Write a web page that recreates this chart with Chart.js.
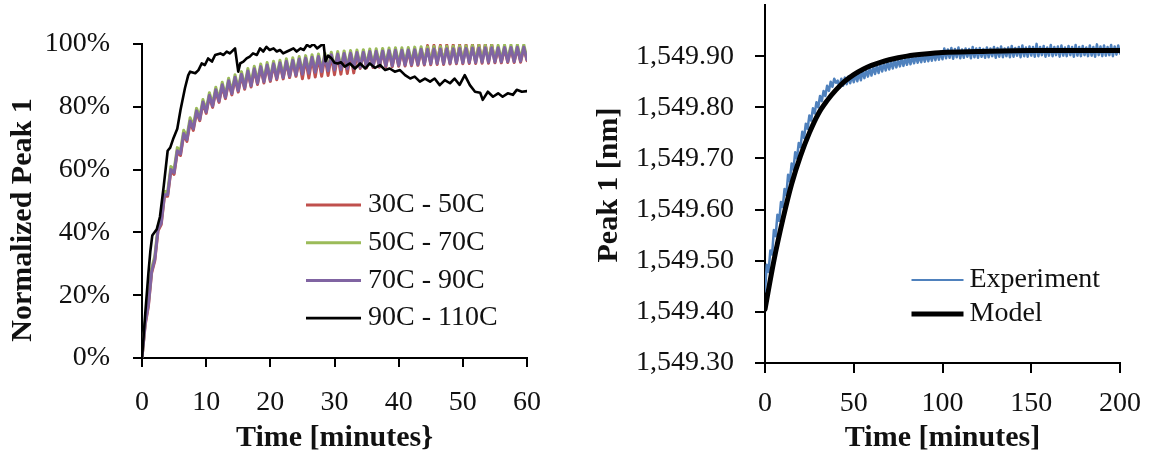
<!DOCTYPE html>
<html>
<head>
<meta charset="utf-8">
<script src="https://cdn.jsdelivr.net/npm/chart.js@4.4.1/dist/chart.umd.min.js"></script>
<style>
  body { margin: 0; background: #fff; }
  #wrap { position: relative; width: 1149px; height: 456px; }
  canvas { position: absolute; top: 0; }
  #left { left: 0; }
  #right { left: 575px; }
</style>
</head>
<body>
<div id="wrap">
  <canvas id="left" width="575" height="456"></canvas>
  <canvas id="right" width="574" height="456"></canvas>
</div>
<script>
// left chart: normalized peak shift, 0..60 min
const tColored = [0,0.5,1,1.5,2,2.5,3,3.5,4,4.5,5,5.5,6,6.5,7,7.5,8,8.5,9,9.5,
  10,10.5,11,11.5,12,12.5,13,13.5,14,14.5,15,15.5,16,16.5,17,17.5,18,18.5,19,19.5,
  20,20.5,21,21.5,22,22.5,23,23.5,24,24.5,25,25.5,26,26.5,27,27.5,28,28.5,29,29.5,
  30,30.5,31,31.5,32,32.5,33,33.5,34,34.5,35,35.5,36,36.5,37,37.5,38,38.5,39,39.5,
  40,40.5,41,41.5,42,42.5,43,43.5,44,44.5,45,45.5,46,46.5,47,47.5,48,48.5,49,49.5,
  50,50.5,51,51.5,52,52.5,53,53.5,54,54.5,55,55.5,56,56.5,57,57.5,58,58.5,59,59.5,60];

const run30_50 = [0,10.5,16.5,27,31,40.5,42.5,51.5,51.5,59.5,
  58.5,65.5,64.5,71,69,75,72.5,78.3,75.6,81.1,
  77.9,83.3,79.8,85,81.4,86.6,82.6,87.9,83.8,89,
  84.7,90,85.6,91,86.3,91.7,87.1,92.4,87.6,92.9,
  88.1,93.3,88.6,93.6,88.9,94.1,89.3,94.4,89.7,94.8,
  88.9,95.2,89.2,95.5,89.5,95.7,89.7,96,90,96.3,
  90.2,96.5,90.4,96.7,90.6,96.8,90.8,97,92.2,97.1,
  92.4,97.3,92.5,97.4,92.6,97.5,92.7,97.6,92.8,97.7,
  92.9,97.7,93,97.8,93.1,97.9,93.2,98,93.3,99.5,
  93.4,99.6,93.5,99.6,93.5,99.7,93.6,99.7,93.7,99.8,
  93.7,99.8,93.8,99.9,93.8,99.9,93.9,100,93.9,100,
  94,98.5,94,98.6,94.1,98.6,94.1,98.7,94.2,98.7,
  94.7];

const run50_70 = [0,11.5,18,28.5,32.5,42,44,53,53,61,
  60,67,66,72.5,70.5,76.5,74,79.5,76.8,82.3,
  79,84.5,80.8,86.2,82.4,87.8,83.6,89.1,84.8,90.2,
  85.7,91.2,86.6,92.2,87.3,92.9,88.1,93.6,88.6,94.1,
  89.1,94.5,89.6,94.8,89.9,95.3,90.3,95.6,90.7,96,
  91,96.3,91.3,96.6,91.6,96.8,91.8,97.1,92.1,97.4,
  92.3,97.6,92.5,97.8,92.7,97.9,92.9,98.1,93.1,98.2,
  93.3,98.4,93.4,98.5,93.5,98.6,93.6,98.7,93.7,98.8,
  93.8,98.8,93.9,98.9,94,99,94.1,99.1,94.2,99.1,
  94.3,99.2,94.4,99.2,94.4,99.3,94.5,99.3,94.6,99.4,
  94.6,99.4,94.7,99.5,94.7,99.5,94.8,99.6,94.8,99.6,
  94.9,99.6,94.9,99.7,95,99.7,95,99.8,95.1,99.8,
  95.5];

const run70_90 = [0,11,17,27.5,31.5,41,43,52,52,60,
  59,66,65,71.5,69.5,75.5,73,78.7,76,81.5,
  78.3,83.7,80.2,85.4,81.8,87,83,88.3,84.2,89.4,
  85.1,90.4,86,91.4,86.7,92.1,87.5,92.8,88,93.3,
  88.5,93.7,89,94,89.3,94.5,89.7,94.8,90.1,95.2,
  90.4,95.5,90.7,95.8,91,96,91.2,96.3,91.5,96.6,
  91.7,96.8,91.9,97,92.1,97.1,92.3,97.3,92.5,97.4,
  92.7,97.6,92.8,97.7,92.9,97.8,93,97.9,93.1,98,
  93.2,98,93.3,98.1,93.4,98.2,93.5,98.3,93.6,98.3,
  93.7,98.4,93.8,98.4,93.8,98.5,93.9,98.5,94,98.6,
  94,98.6,94.1,98.7,94.1,98.7,94.2,98.8,94.2,98.8,
  94.3,98.8,94.3,98.9,94.4,98.9,94.4,99,94.5,99,
  95];

const tHot = [0,0.5,1,1.3,1.6,2.3,2.8,3.4,4,4.4,4.9,5.5,6,6.7,7.2,7.5,8.3,8.8,9.3,9.8,
  10.3,10.9,11.4,12.2,12.7,13.2,13.7,14.5,15,15.3,15.8,16.3,16.8,17.3,17.9,18.4,18.9,19.4,19.9,20.5,
  21,21.5,22,22.6,23.1,23.6,24.1,24.7,25.2,25.7,26.2,26.7,27.3,28,28.3,28.6,29,29.5,30,30.5,
  31,31.6,32.4,33.2,34,34.8,35.5,36.3,37.1,37.9,38.6,39.4,40.2,41,41.8,42.5,43.3,44.1,44.9,45.6,
  46.4,47.2,48,48.7,49.5,50.3,51.1,51.9,52.7,53.1,53.9,54.7,55.5,56.2,57,57.8,58.4,59.2,60];
const run90_110 = [0,14,27,34,39,41,45,55,66,67,70,73,79,86,90,91.2,90.7,91.7,93.8,93.3,
  95.4,94.4,96.5,97,96.5,97.6,97,98.6,91.2,93.8,94.4,95.4,96,97,96.5,98.6,97.6,99.1,98.1,98.6,
  97.6,98.1,97,97.6,98.1,98.6,97.6,98.6,98.1,99.7,99.1,100,98.6,99.7,100,94.5,96.3,95.5,94,93.8,
  94.2,92.8,93.8,92.2,93.8,92.2,93.8,92.4,93.3,91.7,92.2,91.2,91.7,90.1,89,89.6,88,89,88,89,
  86.9,88.5,87.5,89,87,90.1,86.9,84.8,84.5,82.2,84.8,83.2,84.3,83.2,84.3,83.8,85.4,84.8,85];

const leftTicksX = [0,10,20,30,40,50,60];
const leftTicksY = [0,20,40,60,80,100];

// right chart: peak wavelength, one reading per minute, 0..200 min
const tExp = [0,1,2,3,4,5,6,7,8,9,10,11,12,13,14,15,16,17,18,19,
  20,21,22,23,24,25,26,27,28,29,30,31,32,33,34,35,36,37,38,39,
  40,41,42,43,44,45,46,47,48,49,50,51,52,53,54,55,56,57,58,59,
  60,61,62,63,64,65,66,67,68,69,70,71,72,73,74,75,76,77,78,79,
  80,81,82,83,84,85,86,87,88,89,90,91,92,93,94,95,96,97,98,99,
  100,101,102,103,104,105,106,107,108,109,110,111,112,113,114,115,116,117,118,119,
  120,121,122,123,124,125,126,127,128,129,130,131,132,133,134,135,136,137,138,139,
  140,141,142,143,144,145,146,147,148,149,150,151,152,153,154,155,156,157,158,159,
  160,161,162,163,164,165,166,167,168,169,170,171,172,173,174,175,176,177,178,179,
  180,181,182,183,184,185,186,187,188,189,190,191,192,193,194,195,196,197,198,199,200];
const experiment = [
  1549.440,1549.492,1549.478,1549.520,1549.512,1549.560,1549.548,1549.590,1549.578,1549.615,
  1549.605,1549.640,1549.628,1549.668,1549.655,1549.690,1549.678,1549.712,1549.700,1549.730,
  1549.722,1549.752,1549.740,1549.768,1549.758,1549.784,1549.774,1549.798,1549.788,1549.810,
  1549.800,1549.822,1549.812,1549.832,1549.822,1549.842,1549.832,1549.850,1549.840,1549.856,
  1549.848,1549.852,1549.838,1549.856,1549.842,1549.858,1549.845,1549.860,1549.847,1549.862,
  1549.849,1549.865,1549.851,1549.868,1549.853,1549.871,1549.857,1549.873,1549.860,1549.876,
  1549.862,1549.879,1549.865,1549.881,1549.867,1549.884,1549.870,1549.886,1549.872,1549.888,
  1549.874,1549.890,1549.876,1549.892,1549.878,1549.893,1549.880,1549.895,1549.881,1549.896,
  1549.883,1549.898,1549.884,1549.899,1549.886,1549.900,1549.887,1549.901,1549.888,1549.902,
  1549.889,1549.904,1549.890,1549.904,1549.891,1549.906,1549.892,1549.907,1549.893,1549.909,
  1549.894,1549.915,1549.896,1549.913,1549.897,1549.916,1549.895,1549.914,1549.898,1549.917,
  1549.896,1549.913,1549.897,1549.915,1549.899,1549.914,1549.896,1549.918,1549.898,1549.915,
  1549.897,1549.916,1549.899,1549.914,1549.897,1549.917,1549.898,1549.915,1549.900,1549.918,
  1549.897,1549.916,1549.899,1549.919,1549.898,1549.915,1549.900,1549.917,1549.898,1549.920,
  1549.899,1549.916,1549.901,1549.918,1549.898,1549.921,1549.900,1549.917,1549.899,1549.919,
  1549.901,1549.918,1549.899,1549.924,1549.900,1549.918,1549.902,1549.920,1549.899,1549.917,
  1549.901,1549.922,1549.900,1549.918,1549.902,1549.919,1549.899,1549.921,1549.901,1549.917,
  1549.900,1549.920,1549.902,1549.918,1549.899,1549.922,1549.901,1549.918,1549.900,1549.920,
  1549.902,1549.917,1549.900,1549.921,1549.901,1549.918,1549.899,1549.923,1549.902,1549.919,
  1549.900,1549.921,1549.901,1549.918,1549.902,1549.922,1549.900,1549.919,1549.903,1549.921,
  1549.905];

const tModel = [0,5,10,15,20,25,30,35,40,45,50,55,60,65,70,75,80,90,100,120,150,200];
const model = [1549.405,1549.500,1549.580,1549.650,1549.705,1549.750,1549.787,1549.813,1549.834,1549.851,
  1549.864,1549.874,1549.882,1549.888,1549.893,1549.897,1549.900,1549.904,1549.907,1549.909,1549.911,1549.911];

const rightTicksX = [0,50,100,150,200];
const rightTicksY = [1549.3,1549.4,1549.5,1549.6,1549.7,1549.8,1549.9];

Chart.defaults.font.family = "'Liberation Serif', 'Times New Roman', serif";
Chart.defaults.color = '#111';

const pairs = (xs, ys) => xs.map((x, i) => ({x: x, y: ys[i]}));

// legend drawn inside the plot, like the original figure
const sideLegend = {
  id: 'sideLegend',
  afterDraw(chart, args, o) {
    const ctx = chart.ctx;
    ctx.save();
    ctx.font = o.font;
    ctx.textBaseline = 'middle';
    ctx.textAlign = 'left';
    ctx.fillStyle = '#111';
    chart.data.datasets.forEach((ds, i) => {
      const y = o.y + i * o.dy;
      ctx.strokeStyle = ds.borderColor;
      ctx.lineWidth = ds.legendWidth || ds.borderWidth;
      ctx.beginPath();
      ctx.moveTo(o.x, y);
      ctx.lineTo(o.x + o.len, y);
      ctx.stroke();
      ctx.fillText(ds.label, o.x + o.len + o.gap, y);
    });
    ctx.restore();
  }
};

const yTitle = {
  id: 'yTitle',
  afterDraw(chart, args, o) {
    const ctx = chart.ctx;
    ctx.save();
    ctx.translate(o.x, o.y);
    ctx.rotate(-Math.PI / 2);
    ctx.font = "bold 30px 'Liberation Serif'";
    ctx.textAlign = 'center';
    ctx.textBaseline = 'middle';
    ctx.fillStyle = '#111';
    ctx.fillText(o.text, 0, 0);
    ctx.restore();
  }
};

function axis(min, max, ticks, pad, tickLen, size, fmt, extra) {
  return Object.assign({
    type: 'linear',
    min: min,
    max: max,
    afterBuildTicks: s => { s.ticks = ticks.map(v => ({value: v})); },
    ticks: {padding: pad, maxRotation: 0, autoSkip: false, font: {size: 28}, color: '#111', callback: fmt},
    grid: {drawOnChartArea: false, drawTicks: true, tickLength: tickLen, color: '#000', lineWidth: 2},
    border: {display: true, color: '#000', width: 2},
    afterFit: s => {
      // fixed box sizes, no extra room for edge labels
      if (s.isHorizontal()) s.height = size; else s.width = size;
      s.paddingTop = 0; s.paddingBottom = 0; s.paddingLeft = 0; s.paddingRight = 0;
    }
  }, extra || {});
}

const plain = v => String(v);
const percent = v => v + '%';
const nm = v => Number(v).toLocaleString('en-US', {minimumFractionDigits: 2, maximumFractionDigits: 2});

const common = {
  responsive: false,
  animation: false,
  events: [],
  elements: {point: {radius: 0}, line: {tension: 0, borderJoinStyle: 'round', borderCapStyle: 'round'}}
};

new Chart(document.getElementById('left'), {
  type: 'line',
  data: {
    datasets: [
      {label: '30C - 50C', data: pairs(tColored, run30_50), borderColor: '#C0504D', borderWidth: 3, order: 4},
      {label: '50C - 70C', data: pairs(tColored, run50_70), borderColor: '#9BBB59', borderWidth: 3, order: 3},
      {label: '70C - 90C', data: pairs(tColored, run70_90), borderColor: '#8064A2', borderWidth: 3, order: 2},
      {label: '90C - 110C', data: pairs(tHot, run90_110), borderColor: '#000000', borderWidth: 2.6, order: 1}
    ]
  },
  options: Object.assign({}, common, {
    layout: {padding: {top: 44, right: 48, left: 0, bottom: 0}},
    plugins: {
      legend: {display: false},
      tooltip: {enabled: false},
      sideLegend: {x: 306, y: 205, dy: 37.7, len: 55, gap: 7, font: "28px 'Liberation Serif'"},
      yTitle: {text: 'Normalized Peak 1', x: 23, y: 220}
    },
    scales: {
      x: axis(0, 60, leftTicksX, 19, 9, 98, plain, {
        title: {display: true, text: 'Time [minutes}', font: {size: 30, weight: 'bold'}, color: '#111', padding: 0}
      }),
      y: axis(0, 100, leftTicksY, 23, 9, 142, percent)
    }
  }),
  plugins: [sideLegend, yTitle]
});

new Chart(document.getElementById('right'), {
  type: 'line',
  data: {
    datasets: [
      {label: 'Experiment', data: pairs(tExp, experiment), borderColor: '#4F81BD', borderWidth: 2.5, legendWidth: 2, order: 2},
      {label: 'Model', data: pairs(tModel, model), borderColor: '#000000', borderWidth: 5, cubicInterpolationMode: 'monotone', order: 1}
    ]
  },
  options: Object.assign({}, common, {
    layout: {padding: {top: 5, right: 29, left: 0, bottom: 0}},
    plugins: {
      legend: {display: false},
      tooltip: {enabled: false},
      sideLegend: {x: 336.5, y: 280, dy: 34, len: 52, gap: 6, font: "28px 'Liberation Serif'"},
      yTitle: {text: 'Peak 1 [nm]', x: 34.5, y: 185}
    },
    scales: {
      x: axis(0, 200, rightTicksX, 14, 10, 93, plain, {
        title: {display: true, text: 'Time [minutes]', font: {size: 30, weight: 'bold'}, color: '#111', padding: 0}
      }),
      y: axis(1549.3, 1550.0, rightTicksY, 21, 10, 190, nm)
    }
  }),
  plugins: [sideLegend, yTitle]
});
</script>
</body>
</html>
